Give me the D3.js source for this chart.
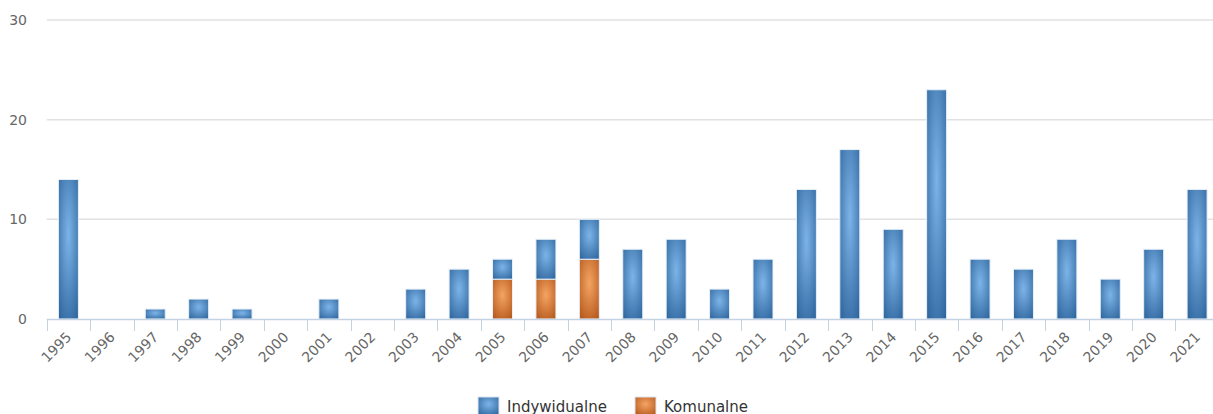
<!DOCTYPE html>
<html>
<head>
<meta charset="utf-8">
<script src="https://cdn.jsdelivr.net/npm/d3@7"></script>
<style>
  body { margin: 0; background: #fff; }
  svg { display: block; font-family: "DejaVu Sans", sans-serif; }
</style>
</head>
<body>
<div id="chart"></div>
<script>
const years = ["1995","1996","1997","1998","1999","2000","2001","2002","2003","2004","2005","2006","2007","2008","2009","2010","2011","2012","2013","2014","2015","2016","2017","2018","2019","2020","2021"];
const komunalne = [0,0,0,0,0,0,0,0,0,0,4,4,6,0,0,0,0,0,0,0,0,0,0,0,0,0,0];
const indywidualne = [14,0,1,2,1,0,2,0,3,5,2,4,4,7,8,3,6,13,17,9,23,6,5,8,4,7,13];
const yTicks = [0, 10, 20, 30];
const seriesNames = ["Indywidualne", "Komunalne"];

const w = 1213;
const h = 414;
const plotLeft = 46.7;
const plotRight = 1218.8;
const plotTop = 20;
const plotBottom = 319;
const barWidth = 20;

const svg = d3.select("#chart").append("svg").attr("width", w).attr("height", h);

const defs = svg.append("defs");
function addGradient(id, light, dark) {
  const g = defs.append("radialGradient").attr("id", id)
    .attr("cx", "50%").attr("cy", "40%").attr("r", "75%");
  g.append("stop").attr("offset", "0%").attr("stop-color", light);
  g.append("stop").attr("offset", "100%").attr("stop-color", dark);
}
addGradient("gradBlue", "#7db4e8", "#2c649c");
addGradient("gradOrange", "#f4a463", "#b3561a");

const x = d3.scaleBand().domain(years).range([plotLeft, plotRight]).paddingInner(0).paddingOuter(0);
const y = d3.scaleLinear().domain([0, 30]).range([plotBottom, plotTop]);

// grid
svg.append("g").selectAll("line")
  .data(yTicks.filter(d => d > 0))
  .enter().append("line")
  .attr("x1", plotLeft).attr("x2", w)
  .attr("y1", d => y(d)).attr("y2", d => y(d))
  .attr("stroke", "#e2e2e2").attr("stroke-width", 1.5);

// y labels
svg.append("g").selectAll("text")
  .data(yTicks)
  .enter().append("text")
  .attr("x", 27).attr("y", d => y(d))
  .attr("dy", "0.35em")
  .attr("text-anchor", "end")
  .attr("fill", "#666")
  .style("font-size", "14px")
  .text(d => d);

// bars
const stacked = years.map((yr, i) => ({ year: yr, kom: komunalne[i], ind: indywidualne[i] }));
const stack = d3.stack().keys(["kom", "ind"])(stacked);
const fills = { kom: "url(#gradOrange)", ind: "url(#gradBlue)" };

stack.forEach(layer => {
  svg.append("g").selectAll("rect")
    .data(layer.filter(d => d[1] - d[0] > 0))
    .enter().append("rect")
    .attr("x", d => x(d.data.year) + x.bandwidth() / 2 - barWidth / 2)
    .attr("y", d => y(d[1]))
    .attr("width", barWidth)
    .attr("height", d => y(d[0]) - y(d[1]))
    .attr("fill", fills[layer.key])
    .attr("stroke", "#e8f0f8")
    .attr("stroke-width", 1);
});

// x axis
svg.append("line")
  .attr("x1", plotLeft).attr("x2", w)
  .attr("y1", plotBottom + 0.5).attr("y2", plotBottom + 0.5)
  .attr("stroke", "#c4d3e3").attr("stroke-width", 1.5);

svg.append("g").selectAll("line")
  .data(years)
  .enter().append("line")
  .attr("x1", d => Math.round(x(d)) + 0.5).attr("x2", d => Math.round(x(d)) + 0.5)
  .attr("y1", plotBottom).attr("y2", plotBottom + 12)
  .attr("stroke", "#c4d3e3").attr("stroke-width", 1);

svg.append("g").selectAll("text")
  .data(years)
  .enter().append("text")
  .attr("transform", d => `translate(${x(d) + x.bandwidth() / 2 + 4},${plotBottom + 19}) rotate(-45)`)
  .attr("text-anchor", "end")
  .attr("fill", "#666")
  .style("font-size", "14px")
  .text(d => d);

// legend
const legendItems = [
  { name: seriesNames[0], fill: "url(#gradBlue)", x: 478 },
  { name: seriesNames[1], fill: "url(#gradOrange)", x: 635 }
];
const legend = svg.append("g").selectAll("g")
  .data(legendItems)
  .enter().append("g")
  .attr("transform", d => `translate(${d.x},397)`);
legend.append("rect")
  .attr("width", 21).attr("height", 18)
  .attr("fill", d => d.fill)
  .attr("stroke", "#dde6f0");
legend.append("text")
  .attr("x", 29).attr("y", 15)
  .attr("fill", "#333")
  .style("font-size", "15px")
  .text(d => d.name);
</script>
</body>
</html>
